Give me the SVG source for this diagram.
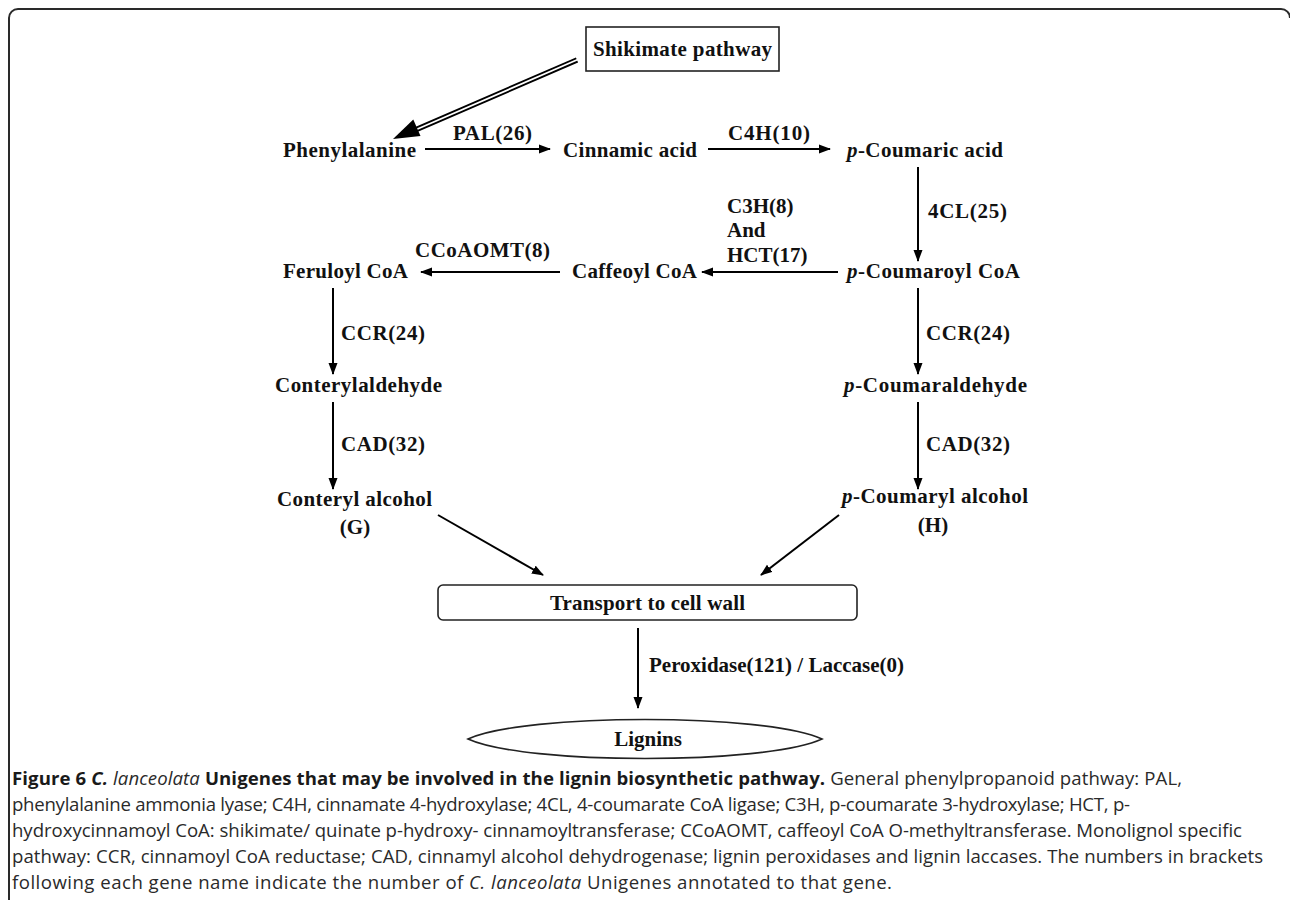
<svg xmlns="http://www.w3.org/2000/svg" width="1290" height="900" viewBox="0 0 1290 900">
<style>
.lbl{font-family:"Liberation Serif","Times New Roman",serif;font-weight:bold;font-size:21px;fill:#111}
.it{font-style:italic}
.cap{font-family:"Open Sans","Noto Sans",sans-serif;font-size:18.6px;fill:#2a2a2a}
.capb{font-weight:bold;fill:#1a1a1a}
.ln{stroke:#000;stroke-width:2;fill:none}
.box{fill:#fff;stroke:#222;stroke-width:1.6}
</style>
<defs>
<marker id="ah" markerUnits="userSpaceOnUse" markerWidth="12" markerHeight="10" refX="11" refY="5" orient="auto">
<path d="M0,0.5 L12,5 L0,9.5 Z" fill="#000"/>
</marker>
</defs>
<rect width="1290" height="900" fill="#fff"/>
<path d="M9,900 V18 A9,9 0 0 1 18,9 H1281 A9,9 0 0 1 1290,18" fill="none" stroke="#2a2a2a" stroke-width="2"/>

<g id="connectors">
<line x1="577" y1="60" x2="414" y2="130.5" stroke="#000" stroke-width="5.5"/>
<line x1="579" y1="59" x2="414" y2="130.5" stroke="#fff" stroke-width="1.8"/>
<polygon points="393,139 420.5,136 413.3,119.6" fill="#000"/>
<line class="ln" x1="425" y1="149" x2="550" y2="149" marker-end="url(#ah)"/>
<line class="ln" x1="708" y1="149" x2="830" y2="149" marker-end="url(#ah)"/>
<line class="ln" x1="918" y1="167" x2="918" y2="261" marker-end="url(#ah)"/>
<line class="ln" x1="838" y1="272" x2="702" y2="272" marker-end="url(#ah)"/>
<line class="ln" x1="560" y1="272" x2="421" y2="272" marker-end="url(#ah)"/>
<line class="ln" x1="333" y1="288" x2="333" y2="374" marker-end="url(#ah)"/>
<line class="ln" x1="333" y1="402" x2="333" y2="489" marker-end="url(#ah)"/>
<line class="ln" x1="918" y1="288" x2="918" y2="374" marker-end="url(#ah)"/>
<line class="ln" x1="918" y1="402" x2="918" y2="489" marker-end="url(#ah)"/>
<line class="ln" x1="438" y1="515" x2="543" y2="575" marker-end="url(#ah)"/>
<line class="ln" x1="839" y1="515" x2="761" y2="575" marker-end="url(#ah)"/>
<line class="ln" x1="638" y1="628" x2="638" y2="708" marker-end="url(#ah)"/>
</g>

<g id="shikimate">
<rect class="box" x="586" y="27" width="193" height="44"/>
<text class="lbl" x="682.5" y="56" text-anchor="middle" textLength="179">Shikimate pathway</text>
</g>
<g id="phenylalanine"><text class="lbl" x="283" y="157" textLength="133">Phenylalanine</text></g>
<g id="cinnamic"><text class="lbl" x="563" y="157" textLength="134">Cinnamic acid</text></g>
<g id="pcoumaric"><text class="lbl" x="847" y="157" textLength="156"><tspan class="it">p</tspan>-Coumaric acid</text></g>
<g id="pcoumaroyl"><text class="lbl" x="847" y="278" textLength="173"><tspan class="it">p</tspan>-Coumaroyl CoA</text></g>
<g id="caffeoyl"><text class="lbl" x="572" y="278" textLength="125">Caffeoyl CoA</text></g>
<g id="feruloyl"><text class="lbl" x="283" y="278" textLength="125">Feruloyl CoA</text></g>
<g id="conterylaldehyde"><text class="lbl" x="275" y="392" textLength="167">Conterylaldehyde</text></g>
<g id="conterylalcohol">
<text class="lbl" x="277" y="506" textLength="155">Conteryl alcohol</text>
<text class="lbl" x="355" y="534" text-anchor="middle">(G)</text>
</g>
<g id="pcoumaraldehyde"><text class="lbl" x="844" y="392" textLength="183"><tspan class="it">p</tspan>-Coumaraldehyde</text></g>
<g id="pcoumarylalcohol">
<text class="lbl" x="842" y="503" textLength="186"><tspan class="it">p</tspan>-Coumaryl alcohol</text>
<text class="lbl" x="933" y="532" text-anchor="middle">(H)</text>
</g>
<g id="transport">
<rect class="box" x="438" y="585" width="419" height="35" rx="5"/>
<text class="lbl" x="647.5" y="610" text-anchor="middle" textLength="195">Transport to cell wall</text>
</g>
<g id="lignins">
<path class="box" d="M468,739 C525,713 765,713 822,739 C765,765 525,765 468,739 Z"/>
<text class="lbl" x="648" y="746" text-anchor="middle">Lignins</text>
</g>

<g id="labels">
<text class="lbl" x="453" y="140" textLength="79">PAL(26)</text>
<text class="lbl" x="728" y="140" textLength="82">C4H(10)</text>
<text class="lbl" x="928" y="218" textLength="79">4CL(25)</text>
<text class="lbl" x="727" y="213">C3H(8)</text>
<text class="lbl" x="727" y="237">And</text>
<text class="lbl" x="727" y="262">HCT(17)</text>
<text class="lbl" x="415" y="257" textLength="135">CCoAOMT(8)</text>
<text class="lbl" x="341" y="340" textLength="84">CCR(24)</text>
<text class="lbl" x="341" y="451" textLength="84">CAD(32)</text>
<text class="lbl" x="926" y="340" textLength="84">CCR(24)</text>
<text class="lbl" x="926" y="451" textLength="84">CAD(32)</text>
<text class="lbl" x="649" y="672">Peroxidase(121) / Laccase(0)</text>
</g>

<g id="caption">
<text class="cap" x="12" y="785" textLength="1170"><tspan class="capb">Figure 6 </tspan><tspan class="capb" font-style="italic">C.</tspan><tspan font-style="italic"> lanceolata</tspan><tspan class="capb"> Unigenes that may be involved in the lignin biosynthetic pathway.</tspan> General phenylpropanoid pathway: PAL,</text>
<text class="cap" x="12" y="811" textLength="1118">phenylalanine ammonia lyase; C4H, cinnamate 4-hydroxylase; 4CL, 4-coumarate CoA ligase; C3H, p-coumarate 3-hydroxylase; HCT, p-</text>
<text class="cap" x="12" y="837" textLength="1230">hydroxycinnamoyl CoA: shikimate/ quinate p-hydroxy- cinnamoyltransferase; CCoAOMT, caffeoyl CoA O-methyltransferase. Monolignol specific</text>
<text class="cap" x="12" y="863" textLength="1251">pathway: CCR, cinnamoyl CoA reductase; CAD, cinnamyl alcohol dehydrogenase; lignin peroxidases and lignin laccases. The numbers in brackets</text>
<text class="cap" x="12" y="889" textLength="880">following each gene name indicate the number of <tspan font-style="italic">C. lanceolata</tspan> Unigenes annotated to that gene.</text>
</g>
</svg>
